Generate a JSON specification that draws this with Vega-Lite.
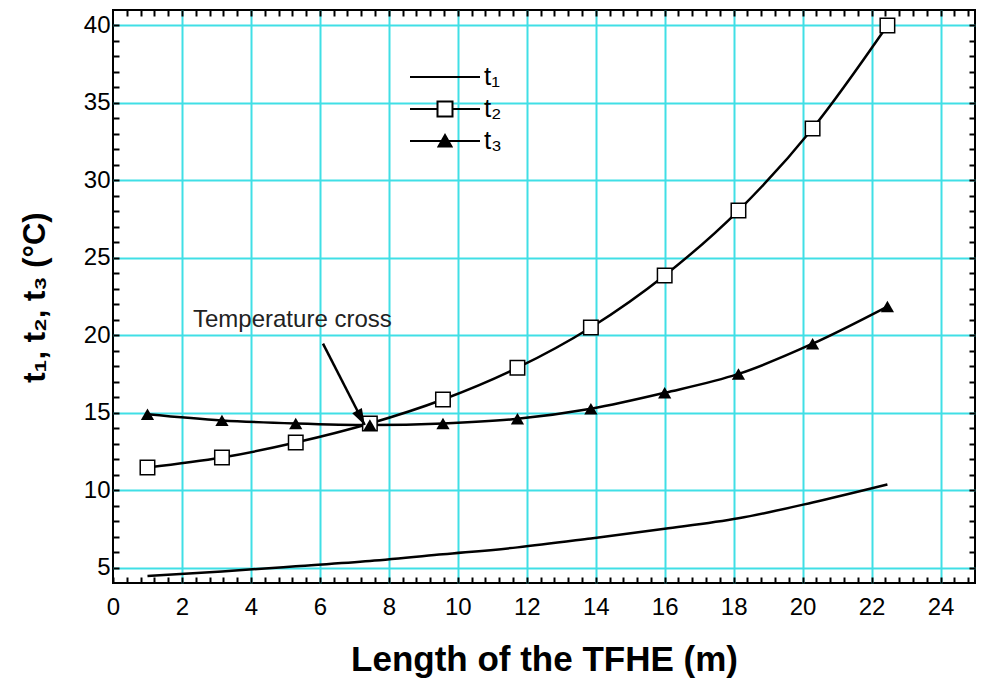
{
  "$schema": "https://vega.github.io/schema/vega-lite/v6.json",
  "width": 862,
  "height": 573,
  "autosize": {"type": "none"},
  "padding": {"left": 113, "top": 10, "right": 6, "bottom": 98},
  "background": "white",
  "config": {
    "font": "Liberation Sans",
    "view": {"stroke": "black", "strokeWidth": 2},
    "axis": {"labelColor": "black", "titleColor": "black"}
  },
  "datasets": {
    "curves": [
      {"length": 1.0, "series": "t₁", "temp": 4.45},
      {"length": 3.16, "series": "t₁", "temp": 4.75},
      {"length": 5.3, "series": "t₁", "temp": 5.08},
      {"length": 7.45, "series": "t₁", "temp": 5.42},
      {"length": 9.57, "series": "t₁", "temp": 5.85},
      {"length": 11.73, "series": "t₁", "temp": 6.3},
      {"length": 13.86, "series": "t₁", "temp": 6.88},
      {"length": 16.0, "series": "t₁", "temp": 7.5},
      {"length": 18.14, "series": "t₁", "temp": 8.18},
      {"length": 20.29, "series": "t₁", "temp": 9.2},
      {"length": 22.46, "series": "t₁", "temp": 10.36},
      {"length": 1.0, "series": "t₂", "temp": 11.46},
      {"length": 3.16, "series": "t₂", "temp": 12.1},
      {"length": 5.3, "series": "t₂", "temp": 13.07},
      {"length": 7.45, "series": "t₂", "temp": 14.3},
      {"length": 9.57, "series": "t₂", "temp": 15.85},
      {"length": 11.73, "series": "t₂", "temp": 17.9},
      {"length": 13.86, "series": "t₂", "temp": 20.5},
      {"length": 16.0, "series": "t₂", "temp": 23.86},
      {"length": 18.14, "series": "t₂", "temp": 28.05},
      {"length": 20.29, "series": "t₂", "temp": 33.35},
      {"length": 22.46, "series": "t₂", "temp": 40.0},
      {"length": 1.0, "series": "t₃", "temp": 14.9},
      {"length": 3.16, "series": "t₃", "temp": 14.5},
      {"length": 5.3, "series": "t₃", "temp": 14.3},
      {"length": 7.45, "series": "t₃", "temp": 14.2},
      {"length": 9.57, "series": "t₃", "temp": 14.3},
      {"length": 11.73, "series": "t₃", "temp": 14.6},
      {"length": 13.86, "series": "t₃", "temp": 15.25},
      {"length": 16.0, "series": "t₃", "temp": 16.28},
      {"length": 18.14, "series": "t₃", "temp": 17.5},
      {"length": 20.29, "series": "t₃", "temp": 19.45},
      {"length": 22.46, "series": "t₃", "temp": 21.85}
    ],
    "arrow": [
      {"x_start": 6.09, "y_start": 19.46, "x_tip": 7.3, "y_tip": 14.2}
    ],
    "note": [
      {"x": 2.32, "y": 20.5, "label": "Temperature cross"}
    ]
  },
  "resolve": {"axis": {"x": "independent", "y": "independent"}},
  "layer": [
    {
      "data": {"name": "curves"},
      "transform": [{"filter": "datum.series === 't₁'"}],
      "mark": {"type": "line", "color": "black", "strokeWidth": 2.5, "interpolate": "monotone"},
      "encoding": {
        "x": {
          "field": "length", "type": "quantitative",
          "scale": {"domain": [0, 25], "nice": false, "zero": false},
          "axis": {
            "orient": "bottom", "title": "Length of the TFHE (m)",
            "values": [0,0.4,0.8,1.2,1.6,2,2.4,2.8,3.2,3.6,4,4.4,4.8,5.2,5.6,6,6.4,6.8,7.2,7.6,8,8.4,8.8,9.2,9.6,10,10.4,10.8,11.2,11.6,12,12.4,12.8,13.2,13.6,14,14.4,14.8,15.2,15.6,16,16.4,16.8,17.2,17.6,18,18.4,18.8,19.2,19.6,20,20.4,20.8,21.2,21.6,22,22.4,22.8,23.2,23.6,24,24.4,24.8],
            "labelExpr": "abs(datum.value - 2 * round(datum.value / 2)) < 0.01 ? format(datum.value, 'd') : ''",
            "grid": false, "domain": false,
            "ticks": true, "tickSize": -6, "tickColor": "black", "tickWidth": 2,
            "labelFontSize": 24, "labelBaseline": "alphabetic", "labelPadding": 37,
            "labelFlush": false, "labelOverlap": false, "labelBound": false,
            "titleFontSize": 35, "titleFontWeight": "bold", "titleBaseline": "alphabetic", "titleY": 87
          }
        },
        "y": {
          "field": "temp", "type": "quantitative",
          "scale": {"domain": [4, 41], "nice": false, "zero": false},
          "axis": {
            "orient": "left", "title": "t₁, t₂, t₃ (°C)",
            "values": [5,6,7,8,9,10,11,12,13,14,15,16,17,18,19,20,21,22,23,24,25,26,27,28,29,30,31,32,33,34,35,36,37,38,39,40],
            "labelExpr": "datum.value % 5 === 0 ? format(datum.value, 'd') : ''",
            "grid": false, "domain": false,
            "ticks": true, "tickSize": -6, "tickColor": "black", "tickWidth": 2,
            "labelFontSize": 24, "labelPadding": 9, "labelBaseline": "middle",
            "labelFlush": false, "labelOverlap": false, "labelBound": false,
            "titleFontSize": 31, "titleFontWeight": "bold", "titleAngle": -90,
            "titleX": -78, "titleY": 287, "titleAlign": "center", "titleBaseline": "middle"
          }
        }
      }
    },
    {
      "data": {"name": "curves"},
      "transform": [{"filter": "datum.series === 't₂'"}],
      "mark": {"type": "line", "color": "black", "strokeWidth": 2.5, "interpolate": "monotone"},
      "encoding": {
        "x": {
          "field": "length", "type": "quantitative",
          "scale": {"domain": [0, 25], "nice": false, "zero": false},
          "axis": {
            "orient": "top", "title": null, "labels": false, "domain": false,
            "ticks": true, "tickSize": -6, "tickColor": "black", "tickWidth": 2,
            "grid": true, "gridColor": "#40dfe6", "gridWidth": 2,
            "gridOpacity": {"condition": {"test": "abs(datum.value - 2 * round(datum.value / 2)) < 0.01", "value": 1}, "value": 0},
            "values": [0.4,0.8,1.2,1.6,2,2.4,2.8,3.2,3.6,4,4.4,4.8,5.2,5.6,6,6.4,6.8,7.2,7.6,8,8.4,8.8,9.2,9.6,10,10.4,10.8,11.2,11.6,12,12.4,12.8,13.2,13.6,14,14.4,14.8,15.2,15.6,16,16.4,16.8,17.2,17.6,18,18.4,18.8,19.2,19.6,20,20.4,20.8,21.2,21.6,22,22.4,22.8,23.2,23.6,24,24.4,24.8]
          }
        },
        "y": {
          "field": "temp", "type": "quantitative",
          "scale": {"domain": [4, 41], "nice": false, "zero": false},
          "axis": {
            "orient": "right", "title": null, "labels": false, "domain": false,
            "ticks": true, "tickSize": -6, "tickColor": "black", "tickWidth": 2,
            "grid": true, "gridColor": "#40dfe6", "gridWidth": 2,
            "gridOpacity": {"condition": {"test": "datum.value % 5 === 0", "value": 1}, "value": 0},
            "values": [5,6,7,8,9,10,11,12,13,14,15,16,17,18,19,20,21,22,23,24,25,26,27,28,29,30,31,32,33,34,35,36,37,38,39,40]
          }
        }
      }
    },
    {
      "data": {"name": "curves"},
      "transform": [{"filter": "datum.series === 't₃'"}],
      "mark": {"type": "line", "color": "black", "strokeWidth": 2.5, "interpolate": "monotone"},
      "encoding": {
        "x": {"field": "length", "type": "quantitative", "scale": {"domain": [0, 25], "nice": false, "zero": false}, "axis": null},
        "y": {"field": "temp", "type": "quantitative", "scale": {"domain": [4, 41], "nice": false, "zero": false}, "axis": null}
      }
    },
    {
      "data": {"name": "curves"},
      "transform": [{"filter": "datum.series === 't₂'"}],
      "mark": {"type": "point", "shape": "square", "size": 210, "filled": true, "fill": "white", "stroke": "black", "strokeWidth": 1.5, "opacity": 1},
      "encoding": {
        "x": {"field": "length", "type": "quantitative", "scale": {"domain": [0, 25], "nice": false, "zero": false}, "axis": null},
        "y": {"field": "temp", "type": "quantitative", "scale": {"domain": [4, 41], "nice": false, "zero": false}, "axis": null}
      }
    },
    {
      "data": {"name": "curves"},
      "transform": [{"filter": "datum.series === 't₃'"}],
      "mark": {"type": "point", "shape": "triangle-up", "size": 175, "filled": true, "color": "black", "opacity": 1},
      "encoding": {
        "x": {"field": "length", "type": "quantitative", "scale": {"domain": [0, 25], "nice": false, "zero": false}, "axis": null},
        "y": {"field": "temp", "type": "quantitative", "scale": {"domain": [4, 41], "nice": false, "zero": false}, "axis": null}
      }
    },
    {
      "data": {"name": "curves"},
      "mark": {"type": "point", "opacity": 0, "filled": true, "stroke": "black"},
      "encoding": {
        "x": {"field": "length", "type": "quantitative", "scale": {"domain": [0, 25], "nice": false, "zero": false}, "axis": null},
        "y": {"field": "temp", "type": "quantitative", "scale": {"domain": [4, 41], "nice": false, "zero": false}, "axis": null},
        "fill": {
          "field": "series", "type": "nominal",
          "scale": {"domain": ["t₁", "t₂", "t₃"], "range": ["white", "white", "black"]},
          "legend": {
            "title": null, "orient": "none", "legendX": 294, "legendY": 54, "padding": 0, "offset": 0,
            "symbolSize": 400, "symbolStrokeWidth": 2, "symbolStrokeColor": "black", "symbolOpacity": 1,
            "labelFontSize": 26, "labelColor": "black", "labelOffset": 51, "rowPadding": 6,
            "encode": {
              "symbols": {
                "update": {
                  "stroke": {"value": "black"},
                  "strokeWidth": {"value": 2},
                  "opacity": {"value": 1}
                }
              }
            }
          }
        },
        "shape": {
          "field": "series", "type": "nominal",
          "scale": {
            "domain": ["t₁", "t₂", "t₃"],
            "range": [
              "M-1,0H6",
              "M-1,0H1.75M3.25,0H6M1.75,-0.75H3.25V0.75H1.75Z",
              "M-1,0H6M2.5,-0.6L3.15,0.55L1.85,0.55ZM2.5,-0.22L2.82,0.36L2.18,0.36ZM2.5,-0.5V0.5"
            ]
          },
          "legend": {
            "title": null, "orient": "none", "legendX": 294, "legendY": 54, "padding": 0, "offset": 0,
            "symbolSize": 400, "symbolStrokeWidth": 2, "symbolStrokeColor": "black", "symbolOpacity": 1,
            "labelFontSize": 26, "labelColor": "black", "labelOffset": 51, "rowPadding": 6,
            "encode": {
              "symbols": {
                "update": {
                  "stroke": {"value": "black"},
                  "strokeWidth": {"value": 2},
                  "opacity": {"value": 1}
                }
              }
            }
          }
        }
      }
    },
    {
      "data": {"name": "arrow"},
      "mark": {"type": "rule", "color": "black", "strokeWidth": 2.5},
      "encoding": {
        "x": {"field": "x_start", "type": "quantitative", "scale": {"domain": [0, 25], "nice": false, "zero": false}, "axis": null},
        "y": {"field": "y_start", "type": "quantitative", "scale": {"domain": [4, 41], "nice": false, "zero": false}, "axis": null},
        "x2": {"field": "x_tip"},
        "y2": {"field": "y_tip"}
      }
    },
    {
      "data": {"name": "arrow"},
      "mark": {"type": "point", "shape": "M0,0L-0.6,-1.8L0.6,-1.8Z", "size": 330, "angle": 332, "filled": true, "color": "black", "opacity": 1},
      "encoding": {
        "x": {"field": "x_tip", "type": "quantitative", "scale": {"domain": [0, 25], "nice": false, "zero": false}, "axis": null},
        "y": {"field": "y_tip", "type": "quantitative", "scale": {"domain": [4, 41], "nice": false, "zero": false}, "axis": null}
      }
    },
    {
      "data": {"name": "note"},
      "mark": {"type": "text", "align": "left", "baseline": "alphabetic", "fontSize": 24, "color": "#222222"},
      "encoding": {
        "x": {"field": "x", "type": "quantitative", "scale": {"domain": [0, 25], "nice": false, "zero": false}, "axis": null},
        "y": {"field": "y", "type": "quantitative", "scale": {"domain": [4, 41], "nice": false, "zero": false}, "axis": null},
        "text": {"field": "label"}
      }
    }
  ]
}
